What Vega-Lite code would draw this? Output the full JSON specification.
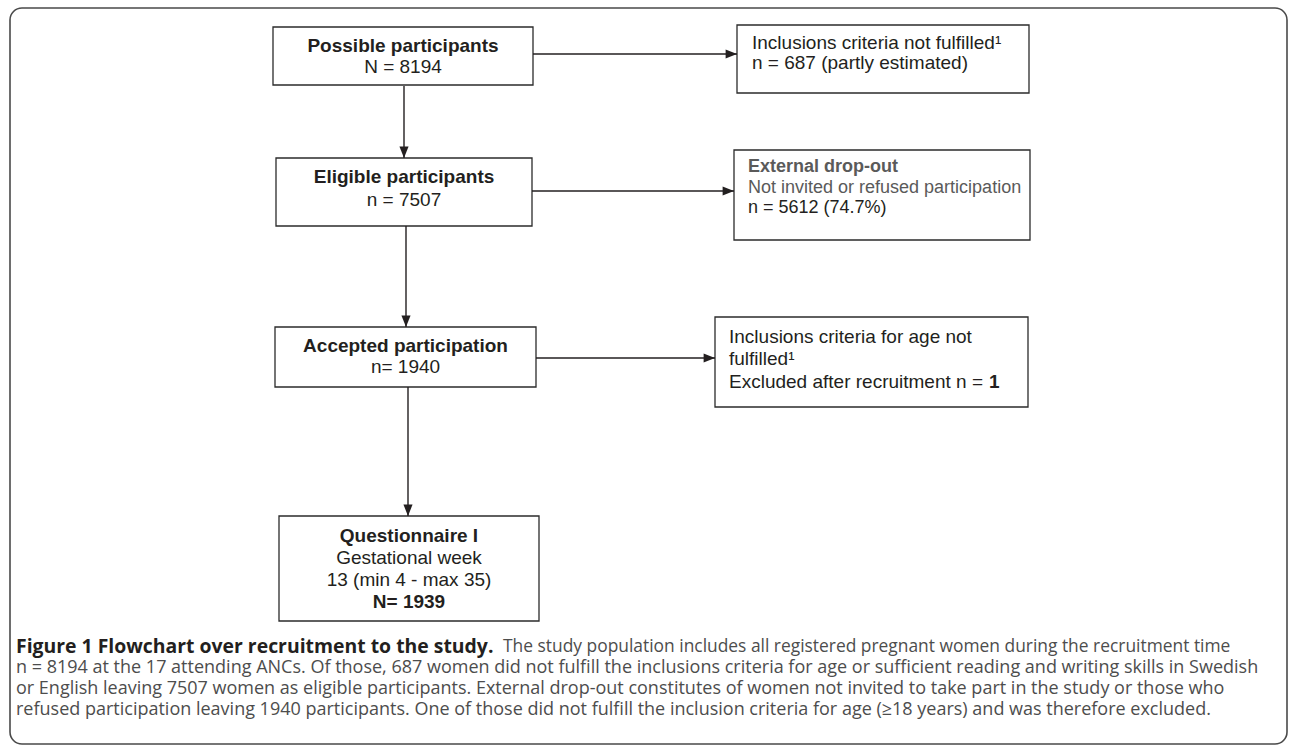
{
  "$schema": "https://vega.github.io/schema/vega-lite/v6.json",
  "width": 1290,
  "height": 746,
  "autosize": {"type": "fit", "contains": "padding"},
  "padding": 0,
  "background": "white",
  "config": {"view": {"stroke": null}},
  "datasets": {
    "frame": [{"x": 10, "x2": 1287, "y": 8, "y2": 744}],
    "boxes": [
      {"id": "possible", "x": 273, "x2": 533, "y": 27, "y2": 85},
      {"id": "eligible", "x": 276, "x2": 532, "y": 158, "y2": 226},
      {"id": "accepted", "x": 275, "x2": 536, "y": 327, "y2": 387},
      {"id": "questionnaire", "x": 279, "x2": 539, "y": 516, "y2": 621},
      {"id": "notfulfilled", "x": 737, "x2": 1029, "y": 25, "y2": 93},
      {"id": "dropout", "x": 734, "x2": 1030, "y": 150, "y2": 240},
      {"id": "age", "x": 715, "x2": 1028, "y": 317, "y2": 407}
    ],
    "links": [
      {"x": 404, "x2": 404, "y": 86, "y2": 158, "dir": "down"},
      {"x": 406, "x2": 406, "y": 226, "y2": 327, "dir": "down"},
      {"x": 408, "x2": 408, "y": 387, "y2": 516, "dir": "down"},
      {"x": 533, "x2": 737, "y": 54, "y2": 54, "dir": "right"},
      {"x": 532, "x2": 734, "y": 191, "y2": 191, "dir": "right"},
      {"x": 536, "x2": 715, "y": 358, "y2": 358, "dir": "right"}
    ],
    "heads": [
      {"x": 404, "y": 158, "dir": "down"},
      {"x": 406, "y": 327, "dir": "down"},
      {"x": 408, "y": 516, "dir": "down"},
      {"x": 737, "y": 54, "dir": "right"},
      {"x": 734, "y": 191, "dir": "right"},
      {"x": 715, "y": 358, "dir": "right"}
    ],
    "labels": [
      {"kind": "title", "x": 403, "y": 46, "label": "Possible participants"},
      {"kind": "body", "x": 403, "y": 67, "label": "N = 8194"},
      {"kind": "title", "x": 404, "y": 177, "label": "Eligible participants"},
      {"kind": "body", "x": 404, "y": 200, "label": "n = 7507"},
      {"kind": "title", "x": 405.5, "y": 346, "label": "Accepted participation"},
      {"kind": "body", "x": 405.5, "y": 367, "label": "n= 1940"},
      {"kind": "title", "x": 409, "y": 536, "label": "Questionnaire I"},
      {"kind": "body", "x": 409, "y": 558, "label": "Gestational week"},
      {"kind": "body", "x": 409, "y": 580, "label": "13 (min 4 - max 35)"},
      {"kind": "title", "x": 409, "y": 602, "label": "N= 1939"},
      {"kind": "side", "x": 752, "y": 43, "label": "Inclusions criteria not fulfilled¹"},
      {"kind": "side", "x": 752, "y": 63, "label": "n = 687 (partly estimated)"},
      {"kind": "sideGreyBold", "x": 748, "y": 167, "label": "External drop-out"},
      {"kind": "sideGrey", "x": 748, "y": 188, "label": "Not invited or refused participation"},
      {"kind": "sideDark", "x": 748, "y": 208, "label": "n = 5612 (74.7%)"},
      {"kind": "side", "x": 729, "y": 337, "label": "Inclusions criteria for age not"},
      {"kind": "side", "x": 729, "y": 359, "label": "fulfilled¹"},
      {"kind": "side", "x": 729, "y": 382, "label": "Excluded after recruitment n = "},
      {"kind": "sideBold", "x": 989, "y": 382, "label": "1"},
      {"kind": "capBold", "x": 16, "y": 647, "label": "Figure 1 Flowchart over recruitment to the study."},
      {"kind": "capFirst", "x": 503, "y": 647, "label": "The study population includes all registered pregnant women during the recruitment time"},
      {"kind": "cap", "x": 16, "y": 668, "label": "n = 8194 at the 17 attending ANCs. Of those, 687 women did not fulfill the inclusions criteria for age or sufficient reading and writing skills in Swedish"},
      {"kind": "cap", "x": 16, "y": 689, "label": "or English leaving 7507 women as eligible participants. External drop-out constitutes of women not invited to take part in the study or those who"},
      {"kind": "cap", "x": 16, "y": 710, "label": "refused participation leaving 1940 participants. One of those did not fulfill the inclusion criteria for age (≥18 years) and was therefore excluded."}
    ]
  },
  "encoding": {
    "x": {"field": "x", "type": "quantitative", "scale": {"domain": [0, 1290], "nice": false, "zero": false}, "axis": null},
    "y": {"field": "y", "type": "quantitative", "scale": {"domain": [0, 746], "nice": false, "zero": false, "reverse": true}, "axis": null}
  },
  "layer": [
    {
      "data": {"name": "frame"},
      "mark": {"type": "rect", "fill": null, "stroke": "#4a4a4a", "strokeWidth": 1.6, "cornerRadius": 12},
      "encoding": {"x2": {"field": "x2"}, "y2": {"field": "y2"}}
    },
    {
      "data": {"name": "boxes"},
      "mark": {"type": "rect", "fill": "white", "stroke": "#2b2b2b", "strokeWidth": 1.3},
      "encoding": {"x2": {"field": "x2"}, "y2": {"field": "y2"}}
    },
    {
      "data": {"name": "links"},
      "mark": {"type": "rule", "color": "#231f20", "strokeWidth": 1.4},
      "encoding": {"x2": {"field": "x2"}, "y2": {"field": "y2"}}
    },
    {
      "data": {"name": "heads"},
      "mark": {"type": "point", "filled": true, "opacity": 1, "color": "#231f20", "size": 130, "strokeWidth": 0},
      "encoding": {
        "shape": {"field": "dir", "type": "nominal", "scale": {"domain": ["right", "down"], "range": ["M0,0L-2,-0.8L-2,0.8Z", "M0,0L-0.8,-2L0.8,-2Z"]}, "legend": null}
      }
    },
    {
      "data": {"name": "labels"},
      "transform": [{"filter": "datum.kind === 'title'"}],
      "mark": {"type": "text", "font": "Liberation Sans", "fontSize": 19, "fontWeight": "bold", "align": "center", "baseline": "middle", "color": "#231f20"},
      "encoding": {"text": {"field": "label"}}
    },
    {
      "data": {"name": "labels"},
      "transform": [{"filter": "datum.kind === 'body'"}],
      "mark": {"type": "text", "font": "Liberation Sans", "fontSize": 19, "align": "center", "baseline": "middle", "color": "#231f20"},
      "encoding": {"text": {"field": "label"}}
    },
    {
      "data": {"name": "labels"},
      "transform": [{"filter": "datum.kind === 'side'"}],
      "mark": {"type": "text", "font": "Liberation Sans", "fontSize": 19, "align": "left", "baseline": "middle", "color": "#231f20"},
      "encoding": {"text": {"field": "label"}}
    },
    {
      "data": {"name": "labels"},
      "transform": [{"filter": "datum.kind === 'sideBold'"}],
      "mark": {"type": "text", "font": "Liberation Sans", "fontSize": 19, "fontWeight": "bold", "align": "left", "baseline": "middle", "color": "#231f20"},
      "encoding": {"text": {"field": "label"}}
    },
    {
      "data": {"name": "labels"},
      "transform": [{"filter": "datum.kind === 'sideGreyBold'"}],
      "mark": {"type": "text", "font": "Liberation Sans", "fontSize": 18, "fontWeight": "bold", "align": "left", "baseline": "middle", "color": "#5a5a5a"},
      "encoding": {"text": {"field": "label"}}
    },
    {
      "data": {"name": "labels"},
      "transform": [{"filter": "datum.kind === 'sideGrey'"}],
      "mark": {"type": "text", "font": "Liberation Sans", "fontSize": 18, "align": "left", "baseline": "middle", "color": "#5a5a5a"},
      "encoding": {"text": {"field": "label"}}
    },
    {
      "data": {"name": "labels"},
      "transform": [{"filter": "datum.kind === 'sideDark'"}],
      "mark": {"type": "text", "font": "Liberation Sans", "fontSize": 18, "align": "left", "baseline": "middle", "color": "#231f20"},
      "encoding": {"text": {"field": "label"}}
    },
    {
      "data": {"name": "labels"},
      "transform": [{"filter": "datum.kind === 'capBold'"}],
      "mark": {"type": "text", "font": "Open Sans", "fontSize": 19.4, "fontWeight": "bold", "align": "left", "baseline": "middle", "color": "#231f20"},
      "encoding": {"text": {"field": "label"}}
    },
    {
      "data": {"name": "labels"},
      "transform": [{"filter": "datum.kind === 'capFirst'"}],
      "mark": {"type": "text", "font": "Open Sans", "fontSize": 17.4, "align": "left", "baseline": "middle", "color": "#4d4d4d"},
      "encoding": {"text": {"field": "label"}}
    },
    {
      "data": {"name": "labels"},
      "transform": [{"filter": "datum.kind === 'cap'"}],
      "mark": {"type": "text", "font": "Open Sans", "fontSize": 18, "align": "left", "baseline": "middle", "color": "#4d4d4d"},
      "encoding": {"text": {"field": "label"}}
    }
  ]
}
